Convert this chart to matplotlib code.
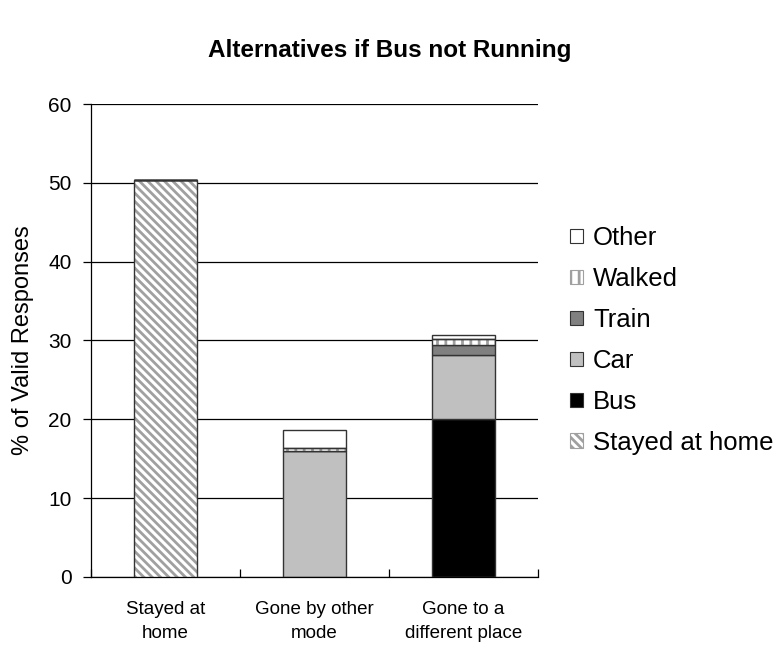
import matplotlib
matplotlib.use("Agg")
import matplotlib.pyplot as plt
from matplotlib.patches import Patch
import numpy as np

plt.rcParams['font.family'] = ['Liberation Sans', 'DejaVu Sans']
plt.rcParams['hatch.linewidth'] = 2.0

categories = ["Stayed at\nhome", "Gone by other\nmode", "Gone to a\ndifferent place"]
series_names = ["Stayed at home", "Bus", "Car", "Train", "Walked", "Other"]
stayed_home = [50.4, 0.0, 0.0]
bus = [0.0, 0.0, 20.0]
car = [0.0, 16.0, 8.1]
train = [0.0, 0.0, 1.3]
walked = [0.0, 0.3, 0.8]
other = [0.0, 2.3, 0.45]
y_ticks = [0, 10, 20, 30, 40, 50, 60]

series = [stayed_home, bus, car, train, walked, other]
fills = ["white", "black", "#c0c0c0", "#808080", "white", "white"]
hatches = ["\\\\\\\\", None, None, None, "||", None]
hatch_cols = ["#a0a0a0", None, None, None, "#a0a0a0", None]

fig = plt.figure(figsize=(7.79, 6.48), dpi=100)
ax = fig.add_axes([0.1168, 0.1096, 0.5738, 0.7299])

x = np.arange(len(categories))
width = 0.42
bottom = np.zeros(len(categories))
edge = "#333333"
for vals, fc, h, hc in zip(series, fills, hatches, hatch_cols):
    vals = np.array(vals)
    if h:
        ax.bar(x, vals, width, bottom=bottom, color=fc, edgecolor=hc,
               hatch=h, linewidth=0, zorder=3)
        ax.bar(x, vals, width, bottom=bottom, fill=False, edgecolor=edge,
               linewidth=1.0, zorder=4)
    else:
        ax.bar(x, vals, width, bottom=bottom, color=fc, edgecolor=edge,
               linewidth=1.0, zorder=3)
    bottom += vals

ax.set_xlim(-0.5, len(categories) - 0.5)
ax.set_ylim(0, 60)
ax.set_yticks(y_ticks)
ax.yaxis.grid(True, color="black", linewidth=0.9, zorder=0)
ax.set_axisbelow(True)

ax.set_xticks(np.arange(len(categories) + 1) - 0.5)
ax.set_xticklabels([])
ax.set_xticks(x, minor=True)
ax.set_xticklabels(categories, minor=True, fontsize=13.5, linespacing=1.6)
ax.tick_params(axis="x", which="minor", length=0, pad=17)
ax.tick_params(axis="x", which="major", direction="in", length=6)
ax.tick_params(axis="y", direction="out", length=6, labelsize=15, pad=8)
ax.tick_params(width=0.9)

for s in ["top", "right"]:
    ax.spines[s].set_visible(False)
for s in ["left", "bottom"]:
    ax.spines[s].set_color("black")
    ax.spines[s].set_linewidth(0.9)

ax.set_ylabel("% of Valid Responses", fontsize=17, labelpad=10)

fig.text(0.5, 0.922, "Alternatives if Bus not Running", ha="center", va="center",
         fontsize=17.5, fontweight="bold")

handles = []
for name, fc, h, hc in zip(series_names, fills, hatches, hatch_cols):
    if h:
        handles.append(Patch(facecolor=fc, edgecolor=hc, hatch=h, linewidth=0.8, label=name))
    else:
        handles.append(Patch(facecolor=fc, edgecolor=edge, linewidth=0.8, label=name))
leg = fig.legend(handles[::-1], series_names[::-1], loc="center left",
                 bbox_to_anchor=(0.7317, 0.4745), frameon=False, fontsize=18.5,
                 handlelength=0.5, handleheight=0.5, handletextpad=0.4,
                 labelspacing=0.66, borderaxespad=0, borderpad=0)

fig.savefig("out.png", dpi=100)
